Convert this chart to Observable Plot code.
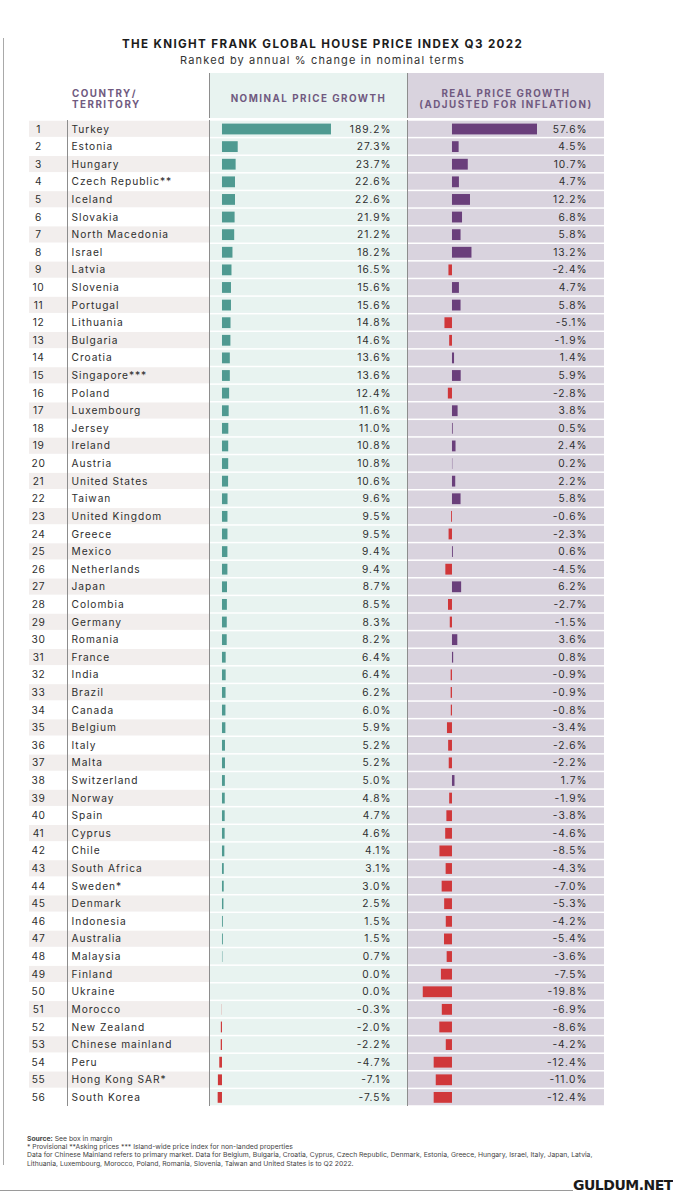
<!DOCTYPE html>
<html>
<head>
<meta charset="utf-8">
<script src="https://cdn.jsdelivr.net/npm/d3@7"></script>
<script src="https://cdn.jsdelivr.net/npm/@observablehq/plot@0.6"></script>
<style>
  html, body { margin: 0; padding: 0; background: #fff; }
  body { width: 673px; height: 1200px; position: relative; font-family: Inter, "Noto Sans", sans-serif; color: #2b2b2b; overflow: hidden; }
  #leftline { position: absolute; left: 3px; top: 38px; width: 1px; height: 1127px; background: #a9a9a9; }
  #title { position: absolute; top: 37px; left: 0; width: 645px; text-align: center; font-weight: 700; font-size: 11.6px; letter-spacing: 1.35px; color: #1c1c1c; }
  #subtitle { position: absolute; top: 53px; left: 0; width: 645px; text-align: center; font-size: 11px; letter-spacing: 1.15px; color: #333; }
  #header { position: absolute; top: 73px; left: 0; display: flex; height: 45px; }
  .hcell { box-sizing: border-box; height: 45px; padding-top: 6px; display: flex; flex-direction: column; justify-content: center; font-weight: 700; font-size: 9.8px; letter-spacing: 1.5px; color: #705a80; line-height: 11px; }
  #hcountry { width: 209px; padding-left: 72px; }
  #hnom { width: 198px; background: #e8f3f0; border-left: 1px solid #8d8d8d; align-items: center; }
  #hreal { width: 197px; background: #d9d3de; border-left: 1px solid #8d8d8d; align-items: center; }
  #rows { position: absolute; top: 120px; left: 0; display: flex; }
  #rows > div { line-height: 0; }
  .bl { border-left: 1px solid #8d8d8d; }
  #footer { position: absolute; top: 1135px; left: 27px; font-size: 6.8px; line-height: 8.2px; color: #444; }
  #bottomline { position: absolute; top: 1190px; left: 0; width: 573px; height: 1px; background: #9a9a9a; }
  #logo { position: absolute; top: 1177px; left: 573px; font-family: "DejaVu Sans", sans-serif; font-weight: 900; font-size: 14px; letter-spacing: -0.5px; color: #1b1b1b; }
</style>
</head>
<body>
<div id="leftline"></div>
<div id="title">THE KNIGHT FRANK GLOBAL HOUSE PRICE INDEX Q3 2022</div>
<div id="subtitle">Ranked by annual % change in nominal terms</div>
<div id="header">
  <div class="hcell" id="hcountry"><div>COUNTRY/</div><div>TERRITORY</div></div>
  <div class="hcell" id="hnom"><div>NOMINAL PRICE GROWTH</div></div>
  <div class="hcell" id="hreal"><div>REAL PRICE GROWTH</div><div>(ADJUSTED FOR INFLATION)</div></div>
</div>
<div id="rows">
  <div id="c-rank"></div>
  <div id="c-name" class="bl"></div>
  <div id="c-nom" class="bl"></div>
  <div id="c-real" class="bl"></div>
</div>
<div id="footer">
  <div><b>Source:</b> See box in margin</div>
  <div>* Provisional **Asking prices *** Island-wide price index for non-landed properties</div>
  <div>Data for Chinese Mainland refers to primary market. Data for Belgium, Bulgaria, Croatia, Cyprus, Czech Republic, Denmark, Estonia, Greece, Hungary, Israel, Italy, Japan, Latvia,</div>
  <div>Lithuania, Luxembourg, Morocco, Poland, Romania, Slovenia, Taiwan and United States is to Q2 2022.</div>
</div>
<div id="bottomline"></div>
<div id="logo">GULDUM.NET</div>
<script>
const countries = ["Turkey","Estonia","Hungary","Czech Republic**","Iceland","Slovakia","North Macedonia","Israel","Latvia","Slovenia","Portugal","Lithuania","Bulgaria","Croatia","Singapore***","Poland","Luxembourg","Jersey","Ireland","Austria","United States","Taiwan","United Kingdom","Greece","Mexico","Netherlands","Japan","Colombia","Germany","Romania","France","India","Brazil","Canada","Belgium","Italy","Malta","Switzerland","Norway","Spain","Cyprus","Chile","South Africa","Sweden*","Denmark","Indonesia","Australia","Malaysia","Finland","Ukraine","Morocco","New Zealand","Chinese mainland","Peru","Hong Kong SAR*","South Korea"];
const nominal = [189.2,27.3,23.7,22.6,22.6,21.9,21.2,18.2,16.5,15.6,15.6,14.8,14.6,13.6,13.6,12.4,11.6,11.0,10.8,10.8,10.6,9.6,9.5,9.5,9.4,9.4,8.7,8.5,8.3,8.2,6.4,6.4,6.2,6.0,5.9,5.2,5.2,5.0,4.8,4.7,4.6,4.1,3.1,3.0,2.5,1.5,1.5,0.7,0.0,0.0,-0.3,-2.0,-2.2,-4.7,-7.1,-7.5];
const real = [57.6,4.5,10.7,4.7,12.2,6.8,5.8,13.2,-2.4,4.7,5.8,-5.1,-1.9,1.4,5.9,-2.8,3.8,0.5,2.4,0.2,2.2,5.8,-0.6,-2.3,0.6,-4.5,6.2,-2.7,-1.5,3.6,0.8,-0.9,-0.9,-0.8,-3.4,-2.6,-2.2,1.7,-1.9,-3.8,-4.6,-8.5,-4.3,-7.0,-5.3,-4.2,-5.4,-3.6,-7.5,-19.8,-6.9,-8.6,-4.2,-12.4,-11.0,-12.4];

const rows = countries.map((c, i) => ({rank: i + 1, country: c, nominal: nominal[i], real: real[i]}));
const H = Math.round(rows.length * 17.6);
const fmt = v => v.toFixed(1) + "%";
const yScale = {type: "band", domain: countries, padding: 0, axis: null};
const textStyle = {fontSize: 10.2, fill: "#2e2e2e", fontFamily: "Inter, 'Noto Sans', sans-serif"};
const common = {height: H, marginTop: 0, marginBottom: 0, marginRight: 0, y: yScale,
  style: {fontFamily: "Inter, 'Noto Sans', sans-serif", background: "transparent", overflow: "visible"}};
const spacing = (svg, s) => svg.querySelectorAll("text").forEach(t => t.style.letterSpacing = s);

// rank column
const rankPlot = Plot.plot({...common, width: 67, marginLeft: 29,
  marks: [
    Plot.cell(rows.filter(d => d.rank % 2 === 1), {y: "country", fill: "#f2eeed", insetTop: 0.75, insetBottom: 0.75}),
    Plot.text(rows, {y: "country", text: d => String(d.rank), frameAnchor: "left", dx: 9, textAnchor: "middle", ...textStyle})
  ]});
spacing(rankPlot, "0.6px");
document.getElementById("c-rank").append(rankPlot);

// country column
const namePlot = Plot.plot({...common, width: 141, marginLeft: 0,
  marks: [
    Plot.cell(rows.filter(d => d.rank % 2 === 1), {y: "country", fill: "#f2eeed", insetTop: 0.75, insetBottom: 0.75}),
    Plot.text(rows, {y: "country", text: "country", frameAnchor: "left", dx: 3, textAnchor: "start", ...textStyle})
  ]});
spacing(namePlot, "0.95px");
document.getElementById("c-name").append(namePlot);

// nominal column
const nomPlot = Plot.plot({...common, width: 197, marginLeft: 0,
  x: {domain: [-20.8, 321.2], axis: null},
  marks: [
    Plot.cell(rows, {y: "country", fill: "#e8f3f0", insetTop: 0.75, insetBottom: 0.75}),
    Plot.barX(rows, {y: "country", x1: 0, x2: "nominal", fill: d => d.nominal >= 0 ? "#4f9a91" : "#cf393a", insetTop: 3.6, insetBottom: 3.2}),
    Plot.text(rows, {y: "country", text: d => fmt(d.nominal), frameAnchor: "right", dx: -16, textAnchor: "end", ...textStyle})
  ]});
spacing(nomPlot, "1px");
document.getElementById("c-nom").append(nomPlot);

// real column
const realPlot = Plot.plot({...common, width: 196, marginLeft: 0,
  x: {domain: [-29.8, 103.0], axis: null},
  marks: [
    Plot.cell(rows, {y: "country", fill: "#d9d3de", insetTop: 0.75, insetBottom: 0.75}),
    Plot.barX(rows, {y: "country", x1: 0, x2: "real", fill: d => d.real >= 0 ? "#6a3f7b" : "#d0373a", insetTop: 3.6, insetBottom: 3.2}),
    Plot.text(rows, {y: "country", text: d => fmt(d.real), frameAnchor: "right", dx: -17, textAnchor: "end", ...textStyle})
  ]});
spacing(realPlot, "1px");
document.getElementById("c-real").append(realPlot);
</script>
</body>
</html>
